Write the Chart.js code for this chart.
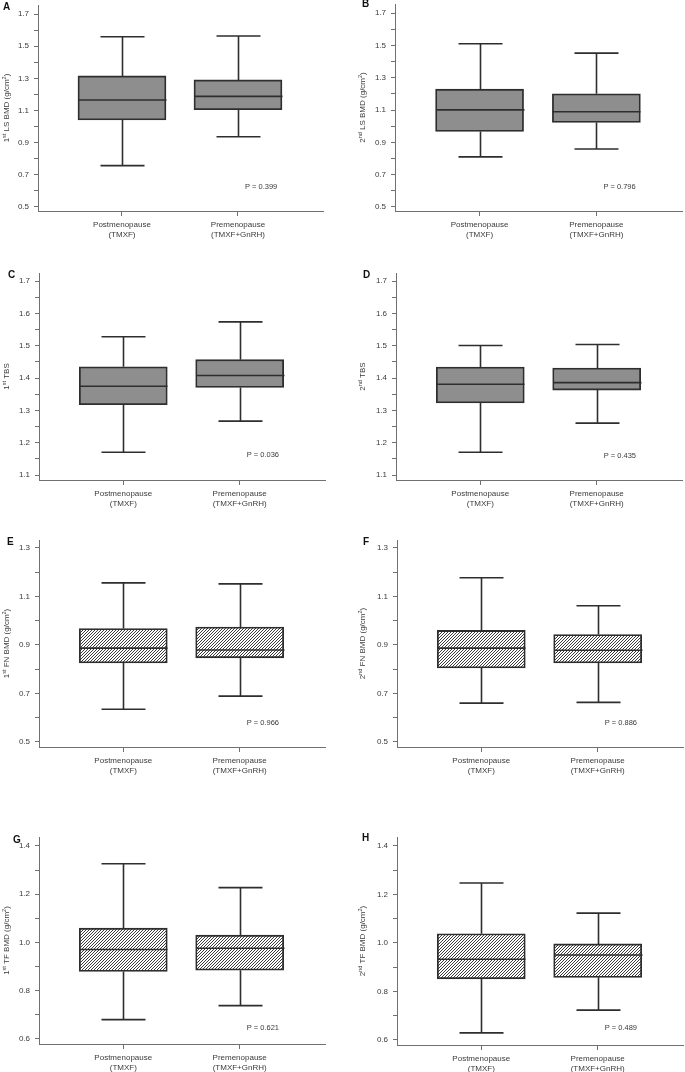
<!DOCTYPE html>
<html>
<head>
<meta charset="utf-8">
<script src="https://cdn.jsdelivr.net/npm/chart.js@4.4.1/dist/chart.umd.min.js"></script>
<style>
  body { margin: 0; background: #fff; width: 685px; height: 1072px; position: relative; overflow: hidden; }
  canvas { position: absolute; }
</style>
</head>
<body>
<canvas id="cA"></canvas><canvas id="cB"></canvas>
<canvas id="cC"></canvas><canvas id="cD"></canvas>
<canvas id="cE"></canvas><canvas id="cF"></canvas>
<canvas id="cG"></canvas><canvas id="cH"></canvas>
<script>
// groups on the x axis
const groups = [['Postmenopause', '(TMXF)'], ['Premenopause', '(TMXF+GnRH)']];

const letters = ['A', 'B', 'C', 'D', 'E', 'F', 'G', 'H'];
// ^...^ marks superscript
const yTitles = [
  '1^st^ LS BMD (g/cm^2^)', '2^nd^ LS BMD (g/cm^2^)',
  '1^st^ TBS', '2^nd^ TBS',
  '1^st^ FN BMD (g/cm^2^)', '2^nd^ FN BMD (g/cm^2^)',
  '1^st^ TF BMD (g/cm^2^)', '2^nd^ TF BMD (g/cm^2^)'
];
const pValues = ['0.399', '0.796', '0.036', '0.435', '0.966', '0.886', '0.621', '0.489'];

// each box: [lower whisker, Q1, median, Q3, upper whisker], Post then Pre
const boxA = [[0.757, 1.041, 1.165, 1.315, 1.559], [0.937, 1.105, 1.188, 1.290, 1.563]];
const boxB = [[0.810, 0.967, 1.101, 1.229, 1.510], [0.859, 1.023, 1.089, 1.200, 1.452]];
const boxC = [[1.171, 1.318, 1.375, 1.435, 1.528], [1.267, 1.371, 1.408, 1.457, 1.574]];
const boxD = [[1.171, 1.323, 1.381, 1.434, 1.501], [1.261, 1.363, 1.386, 1.431, 1.504]];
const boxE = [[0.635, 0.826, 0.887, 0.968, 1.156], [0.689, 0.847, 0.879, 0.974, 1.152]];
const boxF = [[0.660, 0.805, 0.887, 0.960, 1.177], [0.663, 0.826, 0.878, 0.943, 1.062]];
const boxG = [[0.680, 0.880, 0.971, 1.059, 1.326], [0.738, 0.885, 0.976, 1.030, 1.227]];
const boxH = [[0.629, 0.852, 0.933, 1.038, 1.247], [0.723, 0.858, 0.950, 0.996, 1.123]];

// y ticks (all tick marks) and the ones that carry a label
const ticksLS = [0.5, 0.6, 0.7, 0.8, 0.9, 1.0, 1.1, 1.2, 1.3, 1.4, 1.5, 1.6, 1.7];
const labelsLS = [0.5, 0.7, 0.9, 1.1, 1.3, 1.5, 1.7];
const ticksTBS = [1.1, 1.15, 1.2, 1.25, 1.3, 1.35, 1.4, 1.45, 1.5, 1.55, 1.6, 1.65, 1.7];
const labelsTBS = [1.1, 1.2, 1.3, 1.4, 1.5, 1.6, 1.7];
const ticksFN = [0.5, 0.6, 0.7, 0.8, 0.9, 1.0, 1.1, 1.2, 1.3];
const labelsFN = [0.5, 0.7, 0.9, 1.1, 1.3];
const ticksTF = [0.6, 0.7, 0.8, 0.9, 1.0, 1.1, 1.2, 1.3, 1.4];
const labelsTF = [0.6, 0.8, 1.0, 1.2, 1.4];

const panels = [
  { id: 'cA', box: boxA, ticks: ticksLS, labels: labelsLS, min: 0.475, max: 1.756, hatch: false },
  { id: 'cB', box: boxB, ticks: ticksLS, labels: labelsLS, min: 0.475, max: 1.756, hatch: false },
  { id: 'cC', box: boxC, ticks: ticksTBS, labels: labelsTBS, min: 1.085, max: 1.725, hatch: false },
  { id: 'cD', box: boxD, ticks: ticksTBS, labels: labelsTBS, min: 1.085, max: 1.725, hatch: false },
  { id: 'cE', box: boxE, ticks: ticksFN, labels: labelsFN, min: 0.479, max: 1.333, hatch: true },
  { id: 'cF', box: boxF, ticks: ticksFN, labels: labelsFN, min: 0.479, max: 1.333, hatch: true },
  { id: 'cG', box: boxG, ticks: ticksTF, labels: labelsTF, min: 0.579, max: 1.437, hatch: true },
  { id: 'cH', box: boxH, ticks: ticksTF, labels: labelsTF, min: 0.579, max: 1.437, hatch: true }
];

// canvas placement and plot-area geometry
const frames = [
  { left: 0,   top: -5,  w: 340, h: 265, padL: 0,  axisW: 38, padT: 10, padR: 17, bottom: 216, let: [3, 7],   tx: 7,  pOff: 24 },
  { left: 340, top: -6,  w: 345, h: 266, padL: 15, axisW: 40, padT: 10, padR: 3,  bottom: 217, let: [22, 5],  tx: 23, pOff: 24 },
  { left: 0,   top: 260, w: 340, h: 270, padL: 0,  axisW: 39, padT: 13, padR: 15, bottom: 220, let: [8, 10],  tx: 7,  pOff: 25 },
  { left: 340, top: 260, w: 345, h: 270, padL: 15, axisW: 41, padT: 13, padR: 3,  bottom: 220, let: [23, 10], tx: 23, pOff: 24 },
  { left: 0,   top: 530, w: 340, h: 270, padL: 0,  axisW: 39, padT: 10, padR: 15, bottom: 217, let: [7, 7],   tx: 7,  pOff: 24 },
  { left: 340, top: 530, w: 345, h: 270, padL: 15, axisW: 42, padT: 10, padR: 2,  bottom: 217, let: [23, 7],  tx: 23, pOff: 24 },
  { left: 0,   top: 800, w: 340, h: 272, padL: 0,  axisW: 39, padT: 37, padR: 15, bottom: 244, let: [13, 35], tx: 7,  pOff: 16 },
  { left: 340, top: 800, w: 345, h: 272, padL: 15, axisW: 42, padT: 37, padR: 2,  bottom: 245, let: [22, 33], tx: 23, pOff: 17 }
];

const FONT = '"Liberation Sans", Arial, sans-serif';
const ink = '#2e2e2e';
const axisGray = '#707070';
const textGray = '#3a3a3a';

function hatchPattern() {
  const c = document.createElement('canvas');
  c.width = 3; c.height = 3;
  const g = c.getContext('2d');
  g.fillStyle = '#ffffff';
  g.fillRect(0, 0, 3, 3);
  g.fillStyle = '#3c3c3c';
  g.fillRect(2, 0, 1, 1);
  g.fillRect(1, 1, 1, 1);
  g.fillRect(0, 2, 1, 1);
  return g.createPattern(c, 'repeat');
}

function drawTitle(ctx, text, x, cy) {
  const parts = text.split('^');
  const big = '8px ' + FONT, small = '5.5px ' + FONT;
  let total = 0;
  parts.forEach((t, i) => { ctx.font = i % 2 ? small : big; total += ctx.measureText(t).width; });
  ctx.save();
  ctx.translate(x, cy);
  ctx.rotate(-Math.PI / 2);
  ctx.textAlign = 'left';
  ctx.textBaseline = 'middle';
  let pos = -total / 2;
  parts.forEach((t, i) => {
    ctx.font = i % 2 ? small : big;
    ctx.fillText(t, pos, i % 2 ? -3 : 0);
    pos += ctx.measureText(t).width;
  });
  ctx.restore();
}

const whiskers = {
  id: 'whiskers',
  afterDatasetsDraw(chart, args, opts) {
    const { ctx, scales: { x, y }, chartArea } = chart;
    const meta = chart.getDatasetMeta(0);
    ctx.save();
    ctx.strokeStyle = ink;
    ctx.lineWidth = 1.6;
    opts.stats.forEach((s, i) => {
      const cx = Math.round(x.getPixelForValue(i)) + 0.5;
      const bw = meta.data[i].width;
      const cap = bw / 4;
      const [lo, q1, med, q3, hi] = s.map(v => y.getPixelForValue(v));
      ctx.beginPath();
      ctx.moveTo(cx, q3); ctx.lineTo(cx, hi);
      ctx.moveTo(cx - cap, hi); ctx.lineTo(cx + cap, hi);
      ctx.moveTo(cx, q1); ctx.lineTo(cx, lo);
      ctx.moveTo(cx - cap, lo); ctx.lineTo(cx + cap, lo);
      ctx.moveTo(cx - bw / 2, med); ctx.lineTo(cx + bw / 2, med);
      ctx.stroke();
    });
    // panel letter, axis title and p value
    ctx.fillStyle = '#111';
    ctx.font = 'bold 10px ' + FONT;
    ctx.textBaseline = 'top';
    ctx.textAlign = 'left';
    ctx.fillText(opts.letter, opts.letPos[0], opts.letPos[1]);
    ctx.fillStyle = textGray;
    drawTitle(ctx, opts.title, opts.tx, (chartArea.top + chartArea.bottom) / 2);
    ctx.font = '7.5px ' + FONT;
    ctx.textBaseline = 'middle';
    ctx.fillText('P = ' + opts.p, x.getPixelForValue(1) + 7, chartArea.bottom - opts.pOff);
    ctx.restore();
  }
};

panels.forEach((p, k) => {
  const f = frames[k];
  const cv = document.getElementById(p.id);
  cv.style.left = f.left + 'px';
  cv.style.top = f.top + 'px';
  cv.style.width = f.w + 'px';
  cv.style.height = f.h + 'px';
  cv.width = f.w; cv.height = f.h;

  const fill = p.hatch ? hatchPattern() : '#8e8e8e';

  new Chart(cv, {
    type: 'bar',
    data: {
      datasets: [{
        data: p.box.map((b, i) => ({ x: i, y: [b[1], b[3]] })),
        backgroundColor: fill,
        borderColor: ink,
        borderWidth: 1.8,
        borderSkipped: false,
        barThickness: 88
      }]
    },
    options: {
      responsive: false,
      animation: false,
      layout: { padding: { left: f.padL, top: f.padT, right: f.padR, bottom: 0 } },
      plugins: {
        legend: { display: false },
        tooltip: { enabled: false },
        whiskers: {
          stats: p.box, letter: letters[k], letPos: f.let, p: pValues[k],
          pOff: f.pOff, title: yTitles[k], tx: f.tx
        }
      },
      scales: {
        x: {
          type: 'linear',
          min: -0.724,
          max: 1.733,
          offset: false,
          afterBuildTicks: s => { s.ticks = groups.map((g, i) => ({ value: i })); },
          afterFit: s => { s.height = f.h - f.bottom; },
          ticks: {
            autoSkip: false,
            maxRotation: 0,
            padding: 4,
            color: textGray,
            font: { family: FONT, size: 8, lineHeight: 1.25 },
            callback: v => groups[v]
          },
          grid: { drawOnChartArea: false, tickLength: 5, color: axisGray, offset: false },
          border: { color: axisGray, width: 1 }
        },
        y: {
          min: p.min,
          max: p.max,
          afterBuildTicks: s => { s.ticks = p.ticks.map(v => ({ value: v })); },
          afterFit: s => { s.width = f.axisW; },
          ticks: {
            autoSkip: false,
            padding: 5,
            color: textGray,
            font: { family: FONT, size: 8, lineHeight: 1 },
            callback: v => p.labels.includes(v) ? v.toFixed(1) : ''
          },
          grid: { drawOnChartArea: false, tickLength: 4, color: axisGray },
          border: { color: axisGray, width: 1 },
          title: { display: false }
        }
      }
    },
    plugins: [whiskers]
  });
});
</script>
</body>
</html>
